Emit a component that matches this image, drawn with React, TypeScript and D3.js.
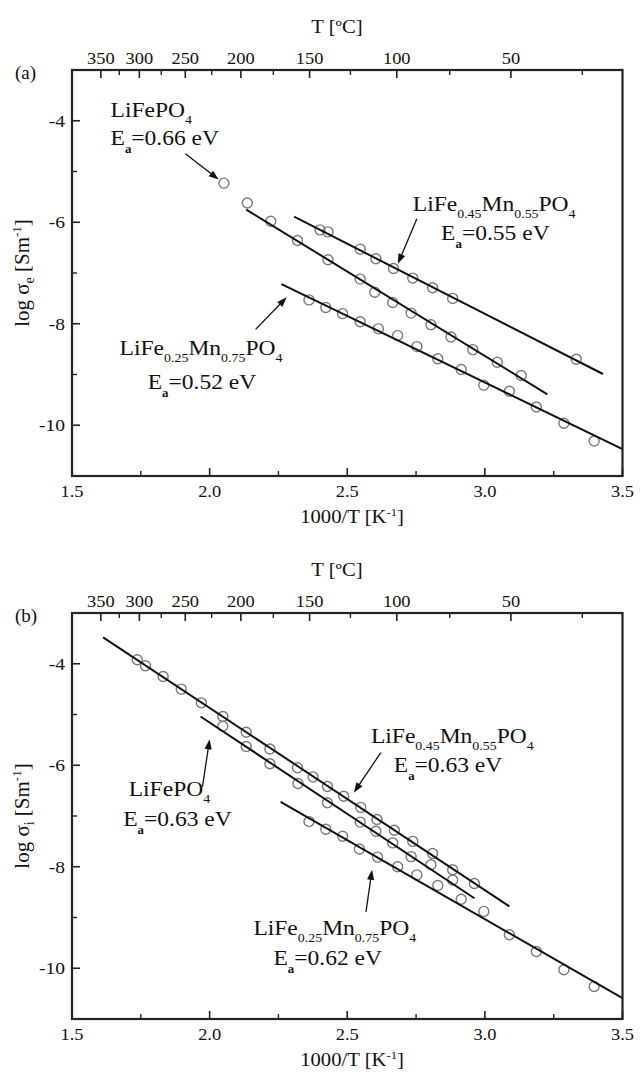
import React from "react";
import * as d3 from "d3";

// ---------- axis ticks ----------
const xTicksMajor = [1.5, 2.0, 2.5, 3.0, 3.5];
const xTicksMinor = [1.75, 2.25, 2.75, 3.25];
const yTicksMajor = [-4, -6, -8, -10];
const yTicksMinor = [-5, -7, -9];
const topTicksMajorC = [350, 300, 250, 200, 150, 100, 50];
const topTicksMinorC = [325, 275, 225, 175, 125, 75, 25];

// ---------- panel (a): electronic conductivity ----------
const aFeX = [2.052, 2.137, 2.222, 2.319, 2.43, 2.547, 2.6, 2.665, 2.732, 2.804, 2.877, 2.956, 3.045, 3.132];
const aFeY = [-5.23, -5.62, -5.98, -6.36, -6.74, -7.12, -7.38, -7.58, -7.79, -8.02, -8.26, -8.51, -8.76, -9.02];
const aFeFitX = [2.133, 3.227];
const aFeFitY = [-5.75, -9.39];

const aMn55X = [2.401, 2.43, 2.547, 2.604, 2.668, 2.738, 2.81, 2.883, 3.332];
const aMn55Y = [-6.15, -6.19, -6.53, -6.72, -6.91, -7.1, -7.29, -7.5, -8.7];
const aMn55FitX = [2.307, 3.429];
const aMn55FitY = [-5.89, -8.99];

const aMn75X = [2.361, 2.422, 2.483, 2.547, 2.613, 2.683, 2.753, 2.829, 2.914, 2.996, 3.089, 3.187, 3.287, 3.397];
const aMn75Y = [-7.53, -7.68, -7.8, -7.96, -8.1, -8.23, -8.45, -8.69, -8.9, -9.21, -9.33, -9.64, -9.96, -10.31];
const aMn75FitX = [2.261, 3.5];
const aMn75FitY = [-7.22, -10.47];

// ---------- panel (b): ionic conductivity ----------
const bMn55X = [1.737, 1.767, 1.831, 1.897, 1.97, 2.048, 2.133, 2.219, 2.319, 2.376, 2.428, 2.487, 2.549, 2.608, 2.671, 2.738, 2.81, 2.883, 2.962];
const bMn55Y = [-3.92, -4.04, -4.25, -4.5, -4.77, -5.04, -5.35, -5.68, -6.05, -6.23, -6.42, -6.61, -6.83, -7.07, -7.28, -7.5, -7.74, -8.06, -8.33];
const bMn55FitX = [1.613, 3.089];
const bMn55FitY = [-3.48, -8.78];

const bFeX = [2.048, 2.133, 2.219, 2.321, 2.428, 2.547, 2.604, 2.665, 2.732, 2.804, 2.883];
const bFeY = [-5.23, -5.63, -5.97, -6.36, -6.74, -7.12, -7.3, -7.53, -7.8, -7.96, -8.26];
const bFeFitX = [1.967, 2.962];
const bFeFitY = [-5.04, -8.62];

const bMn75X = [2.361, 2.422, 2.483, 2.544, 2.61, 2.683, 2.753, 2.829, 2.914, 2.996, 3.089, 3.187, 3.287, 3.397];
const bMn75Y = [-7.11, -7.26, -7.4, -7.65, -7.81, -8.0, -8.16, -8.37, -8.64, -8.88, -9.34, -9.67, -10.03, -10.36];
const bMn75FitX = [2.258, 3.5];
const bMn75FitY = [-6.72, -10.59];

// ---------- annotations (data coordinates) ----------
const aAnnotFe = { formula: [["LiFePO", ""], ["4", "sub"]], ea: "0.66", t: [1.64, -3.92], e: [1.64, -4.48], arrow: [1.912, -4.65, 2.033, -5.16] };
const aAnnotMn55 = { formula: [["LiFe", ""], ["0.45", "sub"], ["Mn", ""], ["0.55", "sub"], ["PO", ""], ["4", "sub"]], ea: "0.55", t: [2.738, -5.77], e: [2.841, -6.34], arrow: [2.753, -5.93, 2.684, -6.82] };
const aAnnotMn75 = { formula: [["LiFe", ""], ["0.25", "sub"], ["Mn", ""], ["0.75", "sub"], ["PO", ""], ["4", "sub"]], ea: "0.52", t: [1.673, -8.61], e: [1.775, -9.29], arrow: [2.167, -8.11, 2.28, -7.48] };

const bAnnotMn55 = { formula: [["LiFe", ""], ["0.45", "sub"], ["Mn", ""], ["0.55", "sub"], ["PO", ""], ["4", "sub"]], ea: "0.63", t: [2.586, -5.56], e: [2.669, -6.14], arrow: [2.622, -5.75, 2.524, -6.54] };
const bAnnotFe = { formula: [["LiFePO", ""], ["4", "sub"]], ea: "0.63", t: [1.706, -6.61], e: [1.686, -7.2], arrow: [1.974, -6.42, 2.0, -5.49] };
const bAnnotMn75 = { formula: [["LiFe", ""], ["0.25", "sub"], ["Mn", ""], ["0.75", "sub"], ["PO", ""], ["4", "sub"]], ea: "0.62", t: [2.159, -9.34], e: [2.232, -9.93], arrow: [2.568, -8.89, 2.59, -8.06] };

const FONT = "Liberation Serif, Times New Roman, Times, serif";
const W = 640;
const H = 1072;
const LEFT = 72;
const RIGHT = 622.5;
const PH = 406;

type Series = { x: number[]; y: number[]; fx: number[]; fy: number[] };
type Annot = { formula: string[][]; ea: string; t: number[]; e: number[]; arrow: number[] };

const SX_TICK = 1.15;
const SX_ANN = 1.07;
const SUB_DY = 7;

function Formula({ x, y, parts }: { x: number; y: number; parts: string[][] }) {
  let shifted = false;
  const spans = parts.map((p, i) => {
    const isSub = p[1] === "sub";
    let dy = 0;
    if (isSub && !shifted) { dy = SUB_DY; shifted = true; }
    else if (!isSub && shifted) { dy = -SUB_DY; shifted = false; }
    return (
      <tspan key={i} dy={dy} fontSize={isSub ? 13 : 22}>{p[0]}</tspan>
    );
  });
  return (
    <text transform={`translate(${x},${y}) scale(${SX_ANN},1)`} style={{ fontFamily: FONT }} fontSize={22} fill="#111">
      {spans}
    </text>
  );
}

function EaText({ x, y, val }: { x: number; y: number; val: string }) {
  return (
    <text transform={`translate(${x},${y}) scale(${SX_ANN},1)`} style={{ fontFamily: FONT }} fontSize={22} fill="#111">
      <tspan>E</tspan>
      <tspan dy={8} fontSize={12} fontWeight="bold">a</tspan>
      <tspan dy={-8}>{`=${val} eV`}</tspan>
    </text>
  );
}

function Arrow({ x1, y1, x2, y2 }: { x1: number; y1: number; x2: number; y2: number }) {
  const dx = x2 - x1;
  const dy = y2 - y1;
  const len = Math.sqrt(dx * dx + dy * dy);
  const ux = dx / len;
  const uy = dy / len;
  const hl = 10;
  const hw = 3.6;
  const bx = x2 - ux * hl;
  const by = y2 - uy * hl;
  const p1 = `${x2},${y2}`;
  const p2 = `${bx - uy * hw},${by + ux * hw}`;
  const p3 = `${bx + uy * hw},${by - ux * hw}`;
  return (
    <g>
      <line x1={x1} y1={y1} x2={bx + ux * 1} y2={by + uy * 1} stroke="#111" strokeWidth={1.3} />
      <polygon points={`${p1} ${p2} ${p3}`} fill="#111" />
    </g>
  );
}

function Panel({ top, label, sub, series, annots }: { top: number; label: string; sub: string; series: Series[]; annots: Annot[] }) {
  const bottom = top + PH;
  const x = d3.scaleLinear().domain([1.5, 3.5]).range([LEFT, RIGHT]);
  const y = d3.scaleLinear().domain([-11, -3]).range([bottom, top]);
  const line = d3.line<number[]>().x((d) => x(d[0])).y((d) => y(d[1]));
  const tx = (c: number) => x(1000 / (c + 273.15));
  const cy = (top + bottom) / 2;
  const st = { fontFamily: FONT };

  return (
    <g>
      <text x={15} y={top + 9} style={st} fontSize={19} fill="#111">{label}</text>

      <text transform={`translate(${337},${top - 37}) scale(${SX_TICK},1)`} textAnchor="middle" style={st} fontSize={18} fill="#111">
        T [ºC]
      </text>
      {topTicksMajorC.map((c) => (
        <g key={"tM" + c}>
          <line x1={tx(c)} x2={tx(c)} y1={top} y2={top + 8} stroke="#222" strokeWidth={1.6} />
          <text transform={`translate(${tx(c)},${top - 6}) scale(${SX_TICK},1)`} textAnchor="middle" style={st} fontSize={16} fill="#111">{c}</text>
        </g>
      ))}
      {topTicksMinorC.map((c) => (
        <line key={"tm" + c} x1={tx(c)} x2={tx(c)} y1={top} y2={top + 5} stroke="#222" strokeWidth={1.4} />
      ))}

      {xTicksMajor.map((v) => (
        <g key={"xM" + v}>
          <line x1={x(v)} x2={x(v)} y1={bottom} y2={bottom - 8} stroke="#222" strokeWidth={1.6} />
          <text transform={`translate(${x(v)},${bottom + 21}) scale(${SX_TICK},1)`} textAnchor="middle" style={st} fontSize={16} fill="#111">{v.toFixed(1)}</text>
        </g>
      ))}
      {xTicksMinor.map((v) => (
        <line key={"xm" + v} x1={x(v)} x2={x(v)} y1={bottom} y2={bottom - 5} stroke="#222" strokeWidth={1.4} />
      ))}
      <text transform={`translate(${352},${bottom + 47}) scale(${SX_TICK},1)`} textAnchor="middle" style={st} fontSize={18} fill="#111">
        <tspan>1000/T [K</tspan>
        <tspan dy={-7} fontSize={11}>-1</tspan>
        <tspan dy={7}>]</tspan>
      </text>

      {yTicksMajor.map((v) => (
        <g key={"yM" + v}>
          <line x1={LEFT} x2={LEFT + 8} y1={y(v)} y2={y(v)} stroke="#222" strokeWidth={1.6} />
          <text transform={`translate(${LEFT - 7},${y(v) + 6}) scale(${SX_TICK},1)`} textAnchor="end" style={st} fontSize={17} fill="#111">{v}</text>
        </g>
      ))}
      {yTicksMinor.map((v) => (
        <line key={"ym" + v} x1={LEFT} x2={LEFT + 5} y1={y(v)} y2={y(v)} stroke="#222" strokeWidth={1.4} />
      ))}
      <text transform={`translate(${29},${cy}) rotate(-90)`} textAnchor="middle" style={st} fontSize={21} fill="#111">
        <tspan>log σ</tspan>
        <tspan dy={5} fontSize={14}>{sub}</tspan>
        <tspan dy={-5}> [Sm</tspan>
        <tspan dy={-8} fontSize={13}>-1</tspan>
        <tspan dy={8}>]</tspan>
      </text>

      {series.map((s, si) => (
        <g key={"s" + si}>
          {s.x.map((xv, i) => (
            <circle key={i} cx={x(xv)} cy={y(s.y[i])} r={5} fill="none" stroke="#7a7a7a" strokeWidth={1.4} />
          ))}
          <path d={line(s.fx.map((fx, i) => [fx, s.fy[i]])) || ""} fill="none" stroke="#111" strokeWidth={2} />
        </g>
      ))}

      {annots.map((a, ai) => (
        <g key={"a" + ai}>
          <Formula x={x(a.t[0])} y={y(a.t[1])} parts={a.formula} />
          <EaText x={x(a.e[0])} y={y(a.e[1])} val={a.ea} />
          <Arrow x1={x(a.arrow[0])} y1={y(a.arrow[1])} x2={x(a.arrow[2])} y2={y(a.arrow[3])} />
        </g>
      ))}

      <rect x={LEFT} y={top} width={RIGHT - LEFT} height={PH} fill="none" stroke="#222" strokeWidth={2.2} />
    </g>
  );
}

export default function App() {
  const seriesA: Series[] = [
    { x: aFeX, y: aFeY, fx: aFeFitX, fy: aFeFitY },
    { x: aMn55X, y: aMn55Y, fx: aMn55FitX, fy: aMn55FitY },
    { x: aMn75X, y: aMn75Y, fx: aMn75FitX, fy: aMn75FitY },
  ];
  const seriesB: Series[] = [
    { x: bMn55X, y: bMn55Y, fx: bMn55FitX, fy: bMn55FitY },
    { x: bFeX, y: bFeY, fx: bFeFitX, fy: bFeFitY },
    { x: bMn75X, y: bMn75Y, fx: bMn75FitX, fy: bMn75FitY },
  ];
  return (
    <svg width={W} height={H} style={{ position: "absolute", left: 0, top: 0, background: "#fff" }}>
      <rect x={0} y={0} width={W} height={H} fill="#fff" />
      <Panel top={70} label="(a)" sub="e" series={seriesA} annots={[aAnnotFe, aAnnotMn55, aAnnotMn75]} />
      <Panel top={613} label="(b)" sub="i" series={seriesB} annots={[bAnnotMn55, bAnnotFe, bAnnotMn75]} />
    </svg>
  );
}
